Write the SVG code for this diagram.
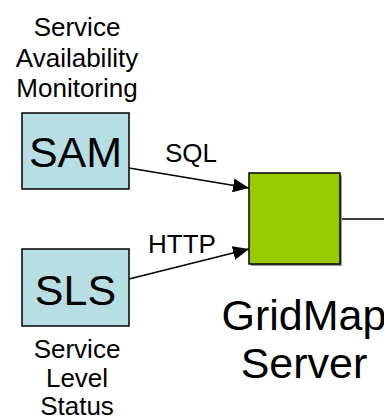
<svg xmlns="http://www.w3.org/2000/svg" width="384" height="419" viewBox="0 0 384 419">
<style>
text{font-family:"Liberation Sans",Arial,sans-serif;fill:#000;text-anchor:middle}
.box{fill:#B7DEE2;stroke:#000;stroke-width:1.5}
.big{font-size:43px}
.lab{font-size:26px}
.edge{stroke:#000;stroke-width:1.5;fill:none}
</style>
<defs>
<marker id="ah" markerWidth="16" markerHeight="14" refX="16" refY="7" orient="auto" markerUnits="userSpaceOnUse">
<path d="M0,0 L16,7 L0,14 Z" fill="#000"/>
</marker>
</defs>
<rect width="384" height="419" fill="#fff"/>
<g id="connectors">
<line class="edge" x1="129" y1="168" x2="249" y2="188" marker-end="url(#ah)"/>
<text class="lab" x="191" y="162">SQL</text>
<line class="edge" x1="129" y1="279" x2="249" y2="249" marker-end="url(#ah)"/>
<text class="lab" x="182" y="253">HTTP</text>
<line class="edge" x1="340" y1="219" x2="384" y2="219"/>
</g>
<g id="sam">
<text class="lab" x="77" y="36">Service</text>
<text class="lab" x="77" y="67">Availability</text>
<text class="lab" x="77" y="97">Monitoring</text>
<rect class="box" x="22" y="113" width="107" height="76"/>
<text class="big" x="75.5" y="167">SAM</text>
</g>
<g id="sls">
<rect class="box" x="22" y="249" width="107" height="77"/>
<text class="big" x="75.5" y="305">SLS</text>
<text class="lab" x="77" y="358">Service</text>
<text class="lab" x="77" y="387">Level</text>
<text class="lab" x="77" y="415">Status</text>
</g>
<g id="gridmap">
<rect x="251" y="175" width="91" height="91" fill="#999"/>
<rect x="249" y="173" width="91" height="91" fill="#99CC00" stroke="#000" stroke-width="1.5"/>
<text class="big" x="304" y="330">GridMap</text>
<text class="big" x="304" y="378">Server</text>
</g>
</svg>
